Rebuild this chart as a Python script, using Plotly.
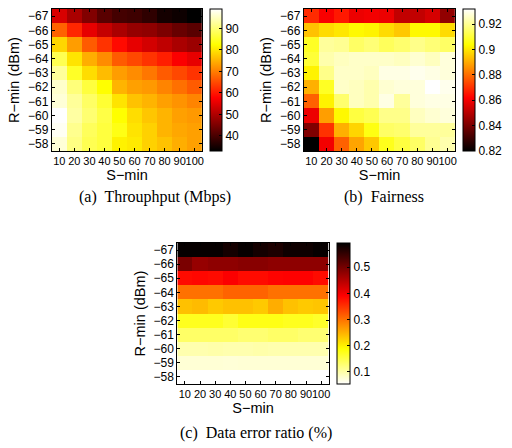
import plotly.graph_objects as go

# Grid of thresholds
S_MIN = [10, 20, 30, 40, 50, 60, 70, 80, 90, 100]
R_MIN = [-67, -66, -65, -64, -63, -62, -61, -60, -59, -58]

# Throughput (Mbps), rows R-min -67 .. -58, columns S-min 10 .. 100
THROUGHPUT = [
    [54.1, 49.5, 45.5, 41.6, 39.6, 39.0, 37.6, 35.0, 34.3, 33.0],
    [67.3, 61.4, 55.4, 52.0, 49.5, 47.5, 46.9, 45.0, 43.0, 41.6],
    [78.5, 73.0, 66.6, 62.7, 58.7, 55.4, 53.5, 51.5, 49.5, 48.0],
    [87.8, 79.9, 74.6, 71.3, 66.6, 64.7, 62.7, 60.7, 57.4, 55.4],
    [92.4, 85.0, 79.2, 76.0, 73.0, 71.3, 69.3, 66.6, 64.7, 62.7],
    [95.7, 90.4, 86.5, 82.5, 75.2, 73.3, 72.6, 70.6, 68.6, 66.6],
    [96.4, 92.4, 89.0, 85.8, 79.9, 76.6, 75.2, 73.3, 72.0, 70.6],
    [99.0, 93.0, 89.8, 87.0, 82.5, 79.2, 77.0, 75.2, 73.3, 72.6],
    [98.3, 91.7, 88.4, 86.5, 83.8, 79.9, 78.0, 75.2, 74.0, 73.3],
    [96.4, 91.0, 87.8, 86.5, 81.2, 80.5, 78.0, 76.6, 74.6, 73.3],
]

# Fairness index
FAIRNESS = [
    [0.869, 0.861, 0.866, 0.859, 0.860, 0.859, 0.852, 0.852, 0.855, 0.844],
    [0.894, 0.898, 0.900, 0.903, 0.902, 0.898, 0.895, 0.903, 0.903, 0.898],
    [0.908, 0.921, 0.920, 0.915, 0.917, 0.914, 0.916, 0.919, 0.917, 0.915],
    [0.910, 0.923, 0.925, 0.926, 0.926, 0.926, 0.925, 0.927, 0.925, 0.928],
    [0.902, 0.919, 0.926, 0.926, 0.925, 0.929, 0.929, 0.930, 0.929, 0.928],
    [0.891, 0.908, 0.926, 0.925, 0.923, 0.927, 0.928, 0.928, 0.932, 0.930],
    [0.878, 0.902, 0.916, 0.925, 0.923, 0.929, 0.921, 0.928, 0.929, 0.929],
    [0.859, 0.888, 0.903, 0.911, 0.913, 0.919, 0.919, 0.925, 0.927, 0.928],
    [0.841, 0.870, 0.891, 0.897, 0.906, 0.915, 0.916, 0.921, 0.921, 0.921],
    [0.820, 0.860, 0.878, 0.889, 0.895, 0.907, 0.911, 0.915, 0.920, 0.923],
]

# Data error ratio (%)
ERROR_RATIO = [
    [0.588, 0.588, 0.588, 0.577, 0.588, 0.577, 0.571, 0.582, 0.582, 0.588],
    [0.496, 0.474, 0.480, 0.480, 0.485, 0.485, 0.480, 0.480, 0.480, 0.480],
    [0.382, 0.385, 0.382, 0.393, 0.382, 0.382, 0.388, 0.390, 0.390, 0.382],
    [0.301, 0.301, 0.301, 0.312, 0.312, 0.312, 0.301, 0.301, 0.301, 0.301],
    [0.237, 0.242, 0.231, 0.237, 0.237, 0.231, 0.253, 0.237, 0.231, 0.234],
    [0.172, 0.172, 0.172, 0.161, 0.177, 0.177, 0.177, 0.172, 0.172, 0.166],
    [0.134, 0.134, 0.134, 0.134, 0.128, 0.128, 0.134, 0.134, 0.128, 0.128],
    [0.096, 0.096, 0.098, 0.096, 0.096, 0.098, 0.096, 0.096, 0.096, 0.096],
    [0.075, 0.075, 0.075, 0.074, 0.075, 0.075, 0.075, 0.075, 0.075, 0.075],
    [0.053, 0.053, 0.053, 0.053, 0.053, 0.053, 0.053, 0.053, 0.053, 0.053],
]

CAPTIONS = ["(a)  Throuphput (Mbps)", "(b)  Fairness", "(c)  Data error ratio (%)"]

W, H = 512, 448
SANS = "Liberation Sans, Arial, sans-serif"
SERIF = "Liberation Serif, Times New Roman, serif"

# MATLAB-style "hot" colormap (piecewise linear in RGB)
HOT = [[0.0, "rgb(0,0,0)"], [0.375, "rgb(255,0,0)"],
       [0.75, "rgb(255,255,0)"], [1.0, "rgb(255,255,255)"]]
HOT_R = [[1 - p, c] for p, c in reversed(HOT)]


def px_x(v):
    return v / W


def px_y(v):
    return 1 - v / H


# panel geometry in pixels: (left, right, top, bottom), colorbar left/thickness
panels = [
    dict(box=(52, 203, 9, 151), cb=(211, 12)),
    dict(box=(305, 457, 9, 151), cb=(465, 12)),
    dict(box=(178, 330, 243, 384), cb=(338, 13)),
]

fig = go.Figure()
datasets = [THROUGHPUT, FAIRNESS, ERROR_RATIO]
for i, z in enumerate(datasets):
    sfx = "" if i == 0 else str(i + 1)
    fig.add_trace(go.Heatmap(
        x=S_MIN, y=R_MIN, z=z,
        coloraxis="coloraxis" + sfx,
        xaxis="x" + sfx, yaxis="y" + sfx,
        hoverinfo="skip",
    ))

axis_common = dict(
    showline=True, linecolor="black", linewidth=1, mirror="ticks",
    ticks="inside", ticklen=3, tickcolor="black", showgrid=False, zeroline=False,
)

layout = dict(
    width=W, height=H, margin=dict(l=0, r=0, t=0, b=0),
    paper_bgcolor="white", plot_bgcolor="white", showlegend=False,
)

cb_ticks = [
    dict(tickvals=[40, 50, 60, 70, 80, 90], ticktext=["40", "50", "60", "70", "80", "90"]),
    dict(tickvals=[0.82, 0.84, 0.86, 0.88, 0.90, 0.92],
         ticktext=["0.82", "0.84", "0.86", "0.88", "0.9", "0.92"]),
    dict(tickvals=[0.1, 0.2, 0.3, 0.4, 0.5], ticktext=["0.1", "0.2", "0.3", "0.4", "0.5"]),
]
clims = [(33, 99), (0.82, 0.932), (0.053, 0.593)]
scales = [HOT, HOT, HOT_R]

for i, p in enumerate(panels):
    sfx = "" if i == 0 else str(i + 1)
    l, r, t, b = p["box"]
    layout["xaxis" + sfx] = dict(
        axis_common, domain=[px_x(l), px_x(r)], anchor="y" + sfx,
        range=[5, 105], tickvals=S_MIN, ticktext=[str(s) for s in S_MIN],
        tickangle=0, tickfont=dict(family=SANS, size=11, color="black"),
        title=dict(text="S\u2212min", font=dict(family=SANS, size=14.5, color="black"), standoff=3),
    )
    layout["yaxis" + sfx] = dict(
        axis_common, domain=[px_y(b), px_y(t)], anchor="x" + sfx,
        range=[-57.5, -67.5], tickvals=R_MIN,
        ticktext=["\u2212" + str(-v) for v in R_MIN],
        tickfont=dict(family=SANS, size=12, color="black"),
        title=dict(text="R\u2212min (dBm)", font=dict(family=SANS, size=14.5, color="black"), standoff=4),
    )
    cbx, thick = p["cb"]
    layout["coloraxis" + sfx] = dict(
        colorscale=scales[i], cmin=clims[i][0], cmax=clims[i][1],
        colorbar=dict(
            x=px_x(cbx), xanchor="left", xref="paper", xpad=0, ypad=0,
            y=px_y(t), yanchor="top", yref="paper",
            len=b - t, lenmode="pixels", thickness=thick, thicknessmode="pixels",
            outlinecolor="black", outlinewidth=1,
            ticks="inside", ticklen=3, tickcolor="black",
            tickfont=dict(family=SANS, size=12, color="black"),
            **cb_ticks[i],
        ),
    )

fig.update_layout(**layout)

# sub-figure captions
caption_pos = [(156, 197), (386, 197), (257, 433)]
for text, (cx, cy) in zip(CAPTIONS, caption_pos):
    fig.add_annotation(
        text=text, x=px_x(cx), y=px_y(cy), xref="paper", yref="paper",
        xanchor="center", yanchor="middle", showarrow=False,
        font=dict(family=SERIF, size=16, color="black"),
    )

fig.write_html("out.html")
